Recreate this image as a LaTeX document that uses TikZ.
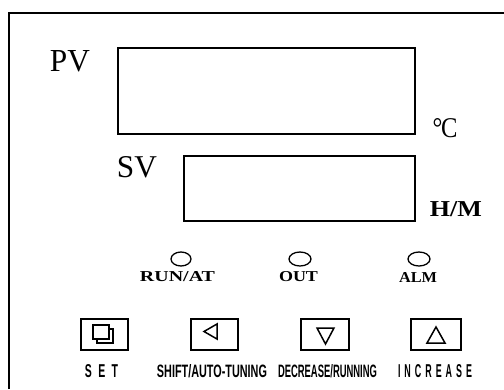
\documentclass[tikz,border=0pt]{standalone}
\usepackage{fontspec}
\usepackage{graphicx}
\setmainfont{Liberation Serif}
\setsansfont{Liberation Sans}
\tikzset{
  frameline/.style={line width=2pt},
  dispbox/.style={line width=1.6pt},
  btnbox/.style={line width=2pt},
  icon/.style={line width=1.5pt, line join=miter},
  led/.style={line width=1.3pt},
  txt/.style={inner sep=0pt, outer sep=0pt}
}
\newcommand{\fitbox}[3]{\resizebox{#1pt}{#2pt}{#3}}
\begin{document}
\begin{tikzpicture}[x=1pt,y=-1pt]
\useasboundingbox (0,0) rectangle (504,389);
\fill[white] (0,0) rectangle (504,389);
% outer frame (cut off at right and bottom)
\coordinate (fbl) at (9,389);
\coordinate (ftl) at (9,13);
\coordinate (ftr) at (504,13);
\draw[frameline] (fbl) -- (ftl) -- (ftr);
% displays
\draw[dispbox] (118,48) rectangle (415,134);
\draw[dispbox] (184,156) rectangle (415,221);
\node[txt] (pv) at (70,61) {\fitbox{40}{21}{PV}};
\node[txt] (sv) at (137,167.5) {\fitbox{40}{21}{SV}};
\node[txt] (degc) at (445,128) {\fitbox{25}{19}{°\kern-0.05em C}};
\node[txt] (hm) at (456,209.5) {\fitbox{52}{15}{\bfseries H/M}};
% LEDs
\draw[led] (181,259) ellipse [x radius=10, y radius=7];
\draw[led] (300,259) ellipse [x radius=11, y radius=7];
\draw[led] (419,259) ellipse [x radius=11, y radius=7];
\node[txt] (run) at (177.5,277) {\fitbox{75}{10}{\bfseries RUN/AT}};
\node[txt] (out) at (298.5,277) {\fitbox{39}{10}{\bfseries OUT}};
\node[txt] (alm) at (418,277) {\fitbox{38}{10}{\bfseries ALM}};
% buttons
\draw[btnbox] (81,319) rectangle (128,350);
\draw[btnbox] (191,319) rectangle (238,350);
\draw[btnbox] (301,319) rectangle (349,350);
\draw[btnbox] (411,319) rectangle (461,350);
% SET icon
\draw[icon] (93,325) rectangle (109,339);
\draw[icon] (109,329) -- (113,329) -- (113,343) -- (97,343) -- (97,339);
% left triangle
\draw[icon] (217,324) -- (204,331.5) -- (217,339) -- cycle;
% down triangle
\draw[icon] (317,328) -- (334,328) -- (325.5,344) -- cycle;
% up triangle
\draw[icon] (427,343) -- (445,343) -- (436,327) -- cycle;
% button labels
\node[txt] (set) at (101.5,371.5) {\fitbox{33}{13}{\sffamily\bfseries S\hspace{0.6em}E\hspace{0.6em}T}};
\node[txt] (shift) at (212,371.5) {\fitbox{110}{13}{\sffamily\bfseries SHIFT/AUTO-TUNING}};
\node[txt] (dec) at (327.5,371.5) {\fitbox{99}{13}{\sffamily\bfseries DECREASE/RUNNING}};
\node[txt] (inc) at (435,371.5) {\fitbox{74}{13}{\sffamily\bfseries I\hspace{0.45em}N\hspace{0.45em}C\hspace{0.45em}R\hspace{0.45em}E\hspace{0.45em}A\hspace{0.45em}S\hspace{0.45em}E}};
\end{tikzpicture}
\end{document}
